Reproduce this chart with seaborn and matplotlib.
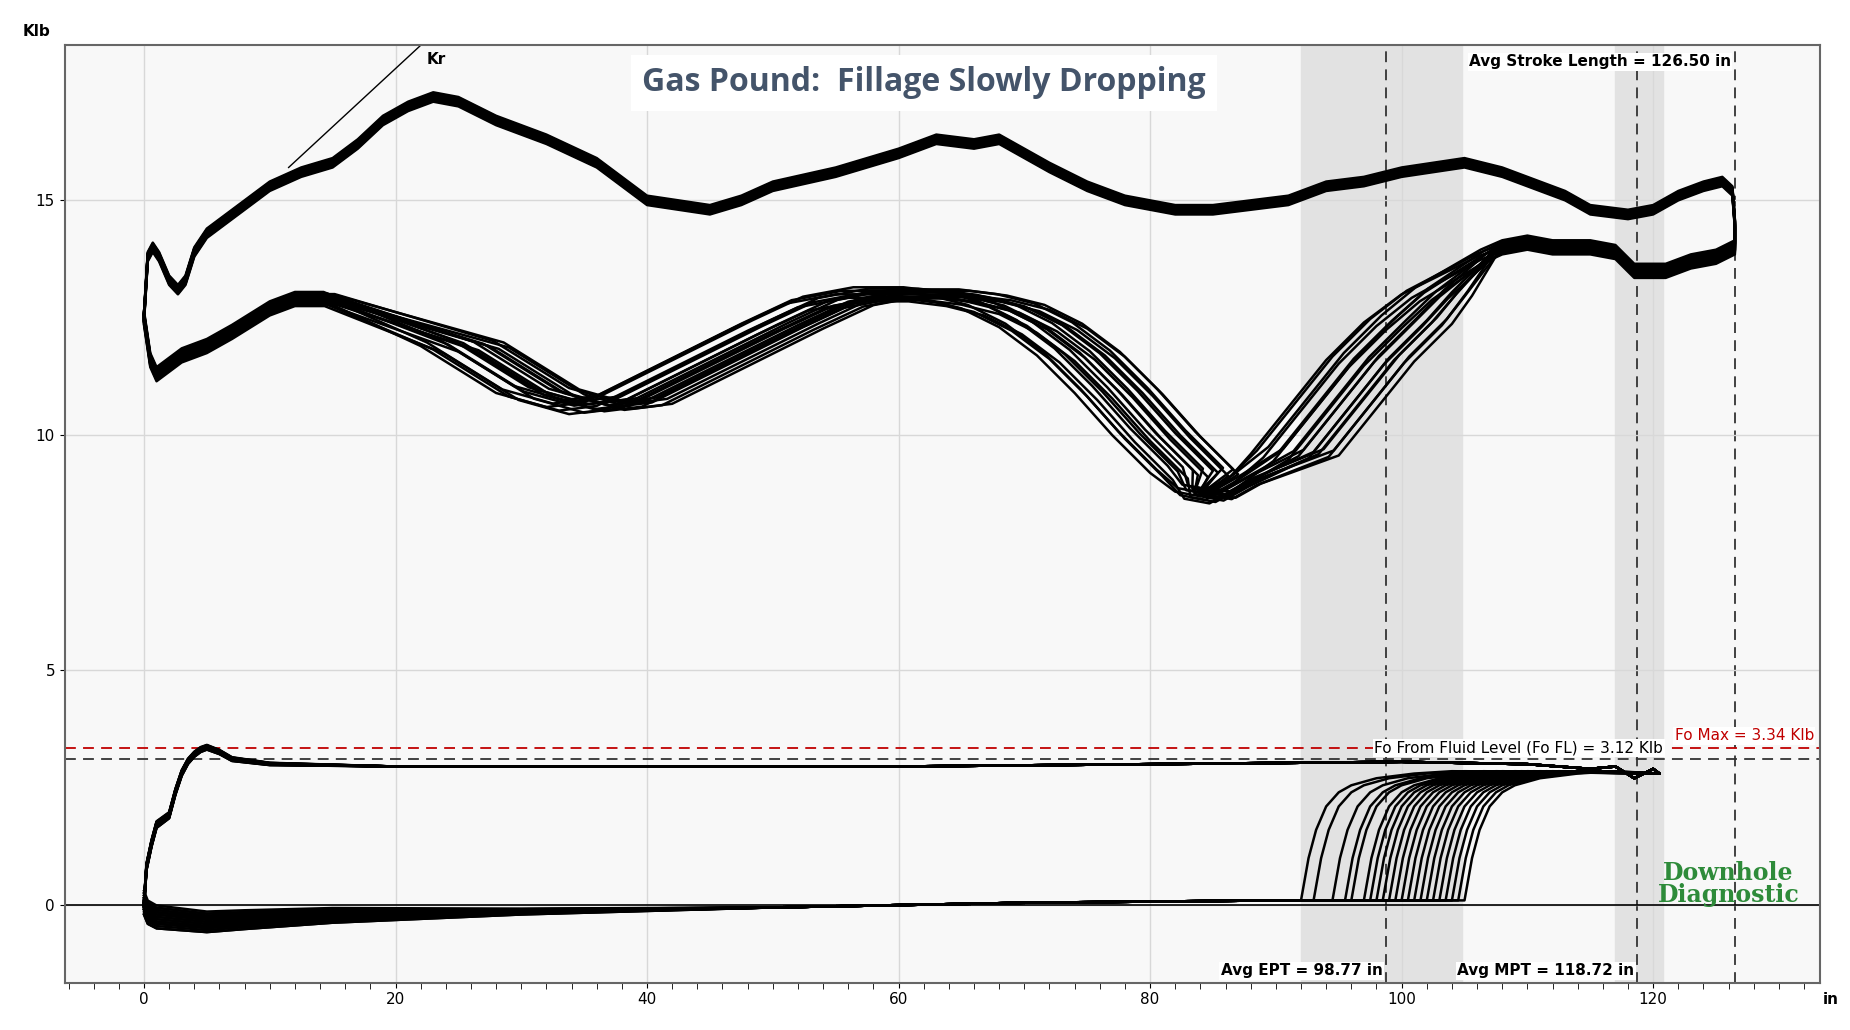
import numpy as np
import pandas as pd
import seaborn as sns
import matplotlib.pyplot as plt

# ---- surface card (polished rod) ----
surf_up_x = [0, 0.3, 0.7, 1.2, 2, 2.7, 3.3, 4, 5, 6, 8, 10, 12.5, 15, 17, 19, 21, 23, 25, 28, 32, 36, 38, 40, 42.5, 45, 47.5, 50, 55, 60, 63, 66, 68, 70, 72, 75, 78, 82, 85, 88, 91, 94, 97, 100, 105, 108, 110, 113, 115, 118, 120, 122, 124, 125.5, 126.3, 126.5]
surf_up_y = [12.5, 13.8, 14.0, 13.8, 13.3, 13.1, 13.3, 13.9, 14.3, 14.5, 14.9, 15.3, 15.6, 15.8, 16.2, 16.7, 17.0, 17.2, 17.1, 16.7, 16.3, 15.8, 15.4, 15.0, 14.9, 14.8, 15.0, 15.3, 15.6, 16.0, 16.3, 16.2, 16.3, 16.0, 15.7, 15.3, 15.0, 14.8, 14.8, 14.9, 15.0, 15.3, 15.4, 15.6, 15.8, 15.6, 15.4, 15.1, 14.8, 14.7, 14.8, 15.1, 15.3, 15.4, 15.2, 14.5]
surf_dn_x = [126.5, 125, 123, 121, 120, 118.5, 117, 115, 112, 110, 108, 106, 103, 100, 97, 94, 91, 88, 86, 84, 82, 80, 77, 74, 71, 68, 65, 62, 59, 55, 51, 47, 44, 41, 38, 35, 32, 28, 25, 22, 18, 14, 12, 10, 7, 5, 3, 1.5, 1, 0.5, 0]
surf_dn_y = [14.0, 13.8, 13.7, 13.5, 13.5, 13.5, 13.9, 14.0, 14.0, 14.1, 14.0, 13.8, 13.4, 13.0, 12.4, 11.6, 10.6, 9.6, 9.0, 8.7, 8.8, 9.2, 10.0, 10.9, 11.7, 12.3, 12.7, 12.9, 13.0, 13.0, 12.8, 12.3, 11.9, 11.5, 11.1, 10.7, 10.6, 10.9, 11.4, 11.9, 12.4, 12.9, 12.9, 12.7, 12.2, 11.9, 11.7, 11.4, 11.3, 11.6, 12.5]
# per-stroke lag of the downstroke (in) and small load offset (Klb)
surf_lag = [0.0, 0.5, 1.0, 1.4, 1.8, 2.2, 2.6, 3.0, 3.4, 3.8, 4.2, 4.6, 5.0, 5.4, 5.8, 6.2, 6.6, 7.0]
surf_off = [0.0, 0.05, -0.05, 0.1, -0.1, 0.02, 0.08, -0.08, 0.04, -0.03, 0.06, -0.06, 0.03, 0.0, 0.07, -0.04, 0.05, -0.02]

# ---- pump card ----
pump_up_x = [0, 0.2, 0.6, 1, 1.5, 2, 2.5, 3, 3.5, 4, 4.5, 5, 6, 7, 10, 20, 40, 60, 80, 100, 110, 115, 117, 118.5, 120, 120.5]
pump_up_y = [0.0, 0.8, 1.3, 1.7, 1.8, 1.9, 2.4, 2.8, 3.05, 3.2, 3.3, 3.35, 3.25, 3.1, 3.0, 2.95, 2.95, 2.95, 3.0, 3.05, 3.0, 2.9, 2.95, 2.7, 2.9, 2.8]
pump_fill_dx = [12, 9, 6, 4, 3, 2, 1.2, 0.6, 0.2, 0]
pump_fill_dy = [2.85, 2.8, 2.7, 2.55, 2.4, 2.1, 1.6, 1.0, 0.4, 0.1]
pump_bot_x = [90, 70, 50, 30, 15, 8, 5, 3, 1, 0.3, 0]
pump_bot_y = [0.1, 0.05, -0.05, -0.15, -0.25, -0.35, -0.4, -0.35, -0.3, -0.2, 0.0]
pump_off = [0.0, 0.15, -0.1, 0.25, -0.2, 0.1, 0.3, -0.05, 0.2, -0.15, 0.05, 0.25, -0.1, 0.15, 0.0, -0.2, 0.1, 0.2, -0.05, 0.05, 0.15, -0.1]
pump_ept = [92.0, 93.0, 94.5, 95.5, 96.0, 97.0, 97.5, 98.0, 98.5, 99.0, 99.5, 100.0,
            100.5, 101.0, 101.5, 102.0, 102.5, 103.0, 103.5, 104.0, 104.5, 105.0]

avg_ept, avg_mpt, stroke_len = 98.77, 118.72, 126.50
fo_fl, fo_max = 3.12, 3.34

rows = []
for k, (lag, off) in enumerate(zip(surf_lag, surf_off)):
    dx = np.array(surf_dn_x, float)
    w = np.clip((dx - 12) / 10, 0, 1) * np.clip((108 - dx) / 10, 0, 1)
    w = w * np.where((dx > 80) & (dx < 88), 0.4, 1.0)
    xs = list(surf_up_x) + list(dx + lag * w)
    ys = [y + off for y in surf_up_y] + [y + off * 1.5 for y in surf_dn_y]
    rows += [dict(x=a, y=b, stroke=f"s{k}") for a, b in zip(xs, ys)]
for k, (e, off) in enumerate(zip(pump_ept, pump_off)):
    # offset fades out along the stroke (heavier spread near x=0)
    bot_y = [y + off * max(0.0, 1 - x / 40) for x, y in zip(pump_bot_x, pump_bot_y)]
    up_y = [y + 0.3 * off * max(0.0, 1 - x / 15) for x, y in zip(pump_up_x, pump_up_y)]
    xs = list(pump_up_x) + [e + d for d in pump_fill_dx] + [min(e - 0.3, 91.5)] + pump_bot_x
    ys = up_y + pump_fill_dy + [0.1] + bot_y
    rows += [dict(x=a, y=b, stroke=f"p{k}") for a, b in zip(xs, ys)]
df = pd.DataFrame(rows)

fig = plt.figure(figsize=(18.5, 10.3), dpi=100)
ax = fig.add_axes([0.035, 0.046, 0.949, 0.91])
ax.set_facecolor("#f8f8f8")

ax.axvspan(92, 104.8, color="#e2e2e2", zorder=0)
ax.axvspan(117, 120.8, color="#e2e2e2", zorder=0)
for xv in (avg_ept, avg_mpt, stroke_len):
    ax.axvline(xv, color="#333333", ls=(0, (6, 4)), lw=1.3, zorder=1)
ax.axhline(fo_max, color="#c00000", ls=(0, (6, 4)), lw=1.3)
ax.axhline(fo_fl, color="#333333", ls=(0, (6, 4)), lw=1.3)
ax.axhline(0, color="black", lw=1.2)

sns.lineplot(data=df, x="x", y="y", units="stroke", estimator=None, sort=False,
             color="black", lw=1.8, ax=ax, legend=False)

ax.plot([11.5, 22], [15.7, 18.3], color="black", lw=1)
ax.text(22.5, 17.9, "Kr", fontsize=11, fontweight="bold")

ax.set_xlim(-6.3, 133.3)
ax.set_ylim(-1.65, 18.3)
ax.set_xticks(range(0, 121, 20))
ax.set_xticks(np.arange(-6, 133, 2), minor=True)
ax.set_yticks([0, 5, 10, 15])
ax.grid(True, which="major", color="#d8d8d8", lw=1)
ax.tick_params(labelsize=11, direction="out")
ax.tick_params(axis="x", which="minor", length=4)
ax.set_xlabel("")
ax.set_ylabel("")
for s in ax.spines.values():
    s.set_color("#666666")
    s.set_linewidth(1.5)

fig.text(0.012, 0.965, "Klb", fontsize=11, fontweight="bold")
fig.text(0.985, 0.025, "in", fontsize=11, fontweight="bold")

ax.text(62, 17.5, "Gas Pound:  Fillage Slowly Dropping", ha="center", va="center",
        fontsize=23, fontweight="bold", color="#44546a", family="Open Sans",
        bbox=dict(facecolor="white", edgecolor="none", pad=8))
ax.text(126.2, 17.95, f"Avg Stroke Length = {stroke_len:.2f} in", ha="right", va="center",
        fontsize=11, fontweight="bold", bbox=dict(facecolor="white", edgecolor="none", pad=1))
ax.text(98.5, -1.4, f"Avg EPT = {avg_ept:.2f} in", ha="right", va="center",
        fontsize=11, fontweight="bold", bbox=dict(facecolor="white", edgecolor="none", pad=1))
ax.text(118.5, -1.4, f"Avg MPT = {avg_mpt:.2f} in", ha="right", va="center",
        fontsize=11, fontweight="bold", bbox=dict(facecolor="white", edgecolor="none", pad=1))
ax.text(120.8, 3.35, f"Fo From Fluid Level (Fo FL) = {fo_fl:.2f} Klb", ha="right", va="center",
        fontsize=11, bbox=dict(facecolor="white", edgecolor="none", pad=1))
ax.text(132.8, 3.6, f"Fo Max = {fo_max:.2f} Klb", ha="right", va="center",
        fontsize=11, color="#c00000", bbox=dict(facecolor="white", edgecolor="none", pad=1))
ax.text(126, 0.45, "Downhole\nDiagnostic", ha="center", va="center", fontsize=17,
        fontweight="bold", color="#2e8b3a", family="DejaVu Serif", linespacing=0.9)

fig.savefig("out.png")
